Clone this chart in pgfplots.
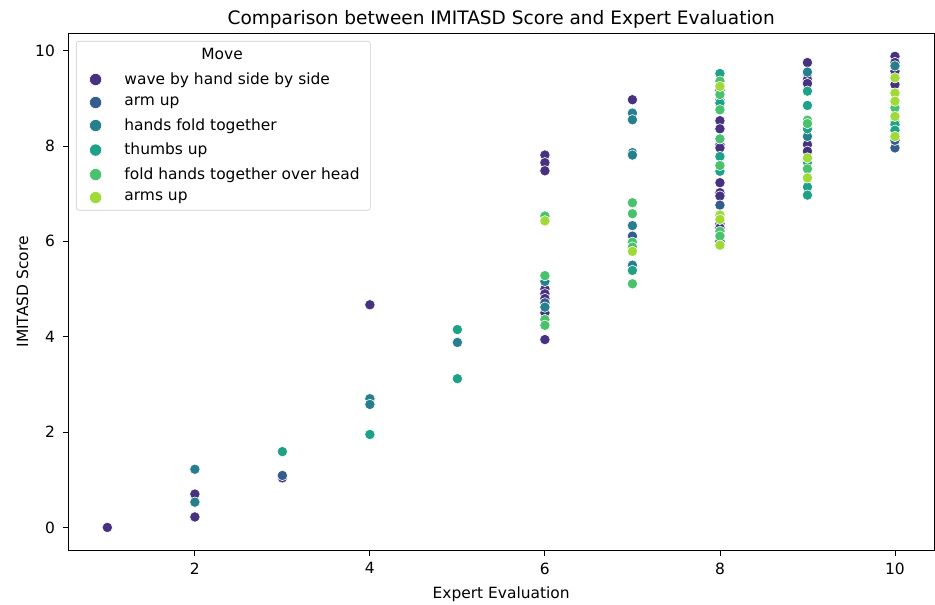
\documentclass[border=0pt]{standalone}
\usepackage{pgfplots}
\pgfplotsset{compat=1.18}
\usepackage{fontspec}
\usepackage{calc}
\setmainfont{DejaVu Sans}
\definecolor{c1}{HTML}{46327E}
\definecolor{c2}{HTML}{365C8D}
\definecolor{c3}{HTML}{277F8E}
\definecolor{c4}{HTML}{1FA187}
\definecolor{c5}{HTML}{4AC16D}
\definecolor{c6}{HTML}{A0DA39}
\pgfplotsset{dot/.style={only marks, mark=*, mark size=3.9pt, color=#1,
    mark options={fill=#1, draw=white, line width=0.45pt}}}
\begin{document}
\begin{tikzpicture}
\begin{axis}[
  scale only axis,
  width=650pt, height=388.5pt,
  xmin=0.55, xmax=10.45, ymin=-0.49, ymax=10.37,
  xtick={2,4,6,8,10}, ytick={0,2,4,6,8,10},
  tick align=outside, major tick length=3.8pt,
  tick style={black, line width=0.65pt},
  xtick pos=bottom, ytick pos=left,
  axis line style={line width=0.65pt},
  /pgf/number format/assume math mode=true,
  ticklabel style={font=\fontsize{11.6}{14}\selectfont},
  yticklabel style={xshift=-2.5pt},
  xticklabel style={yshift=-1.5pt},
  label style={font=\fontsize{11.6}{14}\selectfont},
  xlabel={Expert Evaluation}, ylabel={IMITASD Score},
  ylabel style={yshift=-1.8pt},
  xlabel style={yshift=-2.5pt},
  title={Comparison between IMITASD Score and Expert Evaluation},
  title style={font=\fontsize{13.9}{16}\selectfont, yshift=-6pt},
  legend cell align=left,
  legend image post style={mark size=4.6pt},
  legend style={at={(0,1)}, anchor=north west, xshift=6pt, yshift=-6pt,
    draw=black!20, rounded corners=2pt, font=\fontsize{11.6}{14}\selectfont,
    row sep=4.1pt, inner xsep=6pt, inner ysep=3.5pt,
    /tikz/every odd column/.append style={column sep=15pt}},
]
\coordinate (ll) at (rel axis cs:0,0);
\coordinate (ur) at (rel axis cs:1,1);
\addlegendimage{empty legend}
\addlegendentry{\hspace*{-30pt}\makebox[\widthof{fold hands together over head}+30pt][c]{Move}}
\addplot[dot=c1] coordinates {
(1,0) (2,0.70) (2,0.22) (3,1.04) (4,4.67) (6,7.81) (6,7.65) (6,7.48) (6,5.0) (6,4.9) (6,4.8) (6,4.5) (6,3.94)
(7,8.97) (8,8.53) (8,8.36) (8,8.03) (8,7.96) (8,7.23) (8,7.02) (8,6.95) (8,6.37) (8,6.28) (8,6.0)
(9,9.75) (9,9.47) (9,9.39) (9,9.31) (9,8.03) (9,7.89) (10,9.88) (10,9.75) (10,9.57) (10,9.29)};
\addlegendentry{wave by hand side by side}
\addplot[dot=c2] coordinates {
(3,1.09) (6,4.71) (7,6.11) (8,9.17) (8,6.76) (10,7.96) (10,8.12)};
\addlegendentry{arm up}
\addplot[dot=c3] coordinates {
(2,1.22) (2,0.53) (4,2.70) (4,2.58) (5,3.88) (6,5.16) (6,4.62) (7,8.69) (7,8.55) (7,7.86) (7,7.81)
(7,6.33) (7,5.50) (9,9.55) (9,8.20) (10,9.68) (10,8.50)};
\addlegendentry{hands fold together}
\addplot[dot=c4] coordinates {
(3,1.59) (4,1.95) (5,4.15) (5,3.12) (7,5.39) (8,9.52) (8,8.97) (8,8.90) (8,7.78) (8,7.47)
(9,9.15) (9,8.85) (9,8.36) (9,7.66) (9,7.14) (9,6.97) (10,8.45) (10,8.33)};
\addlegendentry{thumbs up}
\addplot[dot=c5] coordinates {
(6,6.53) (6,5.28) (6,4.36) (6,4.24) (7,6.81) (7,6.58) (7,5.98) (7,5.88) (7,5.11) (8,9.36) (8,9.08)
(8,8.76) (8,8.15) (8,7.59) (8,6.21) (8,6.11) (9,8.54) (9,8.47) (9,7.52) (10,8.80)};
\addlegendentry{fold hands together over head}
\addplot[dot=c6] coordinates {
(6,6.43) (7,5.79) (8,9.25) (8,6.55) (8,6.46) (8,5.92) (9,7.75) (9,7.33) (10,9.43) (10,9.11)
(10,8.94) (10,8.62) (10,8.20)};
\addlegendentry{arms up}
\end{axis}
\pgfresetboundingbox
\path[use as bounding box] ([shift={(-51pt,-40.5pt)}]ll) rectangle ([shift={(0.5pt,24.75pt)}]ur);
\end{tikzpicture}
\end{document}
